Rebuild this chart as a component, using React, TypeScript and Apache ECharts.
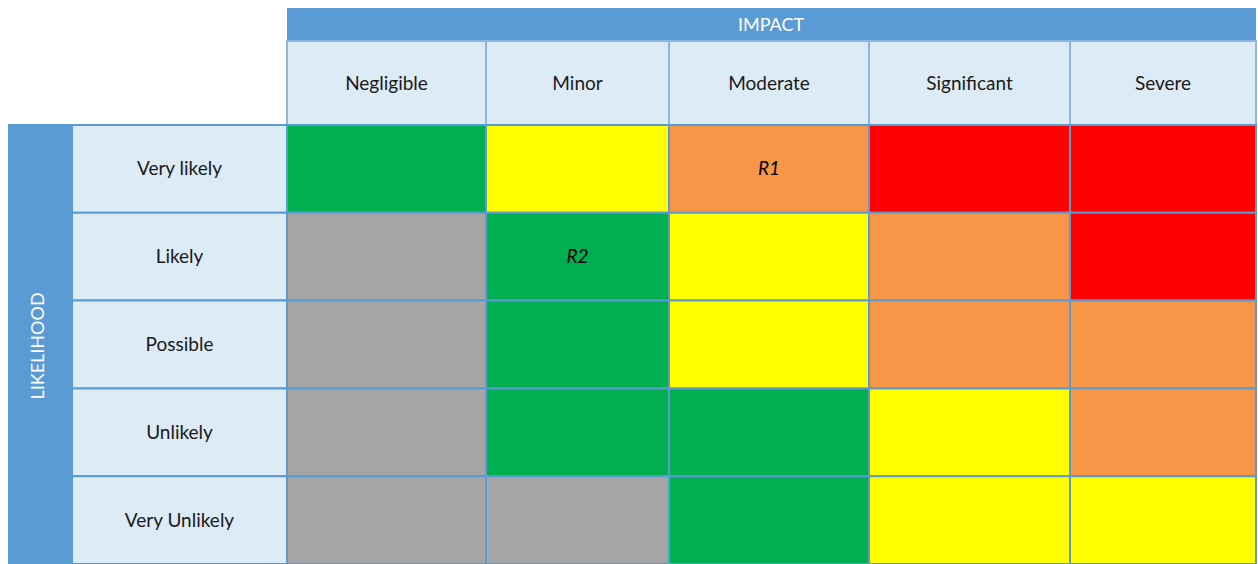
import React, { useEffect, useRef } from "react";
import * as echarts from "echarts";

// ---- data ----
const impactCategories = ["Negligible", "Minor", "Moderate", "Significant", "Severe"];
const likelihoodCategories = ["Very likely", "Likely", "Possible", "Unlikely", "Very Unlikely"];
// risk level per row (likelihood) and column (impact): 0 grey, 1 green, 2 yellow, 3 orange, 4 red
const riskLevels: number[][] = [
  [1, 2, 3, 4, 4],
  [0, 1, 2, 3, 4],
  [0, 1, 2, 3, 3],
  [0, 1, 1, 2, 3],
  [0, 0, 1, 2, 2],
];
// named risks placed in the matrix: [impact index, likelihood index, label]
const risks: [number, number, string][] = [
  [2, 0, "R1"],
  [1, 1, "R2"],
];
const impactTitle = "IMPACT";
const likelihoodTitle = "LIKELIHOOD";

// ---- styles / layout ----
const levelColors = ["#A5A5A5", "#00B050", "#FFFF00", "#F79646", "#FF0000"];
const COL_EDGES = [0, 199, 382, 582, 783, 969]; // column boundaries in x-axis units (layout)
const HEADER_BLUE = "#5B9BD5";
const LIGHT = "#DDEBF7";
const FONT = "Lato, 'Open Sans', sans-serif";
const TEXT_COLOR = "#1a1a1a";

export default function App() {
  const ref = useRef<HTMLDivElement>(null);

  useEffect(() => {
    if (!ref.current) return;
    const chart = echarts.init(ref.current, undefined, { renderer: "svg" });

    const cellData: any[] = [];
    riskLevels.forEach((row, r) =>
      row.forEach((lvl, c) => cellData.push([c, r, lvl]))
    );
    const labelFor = (c: number, r: number) => {
      const f = risks.find((k) => k[0] === c && k[1] === r);
      return f ? f[2] : "";
    };

    const option: any = {
      animation: false,
      backgroundColor: "#ffffff",
      grid: { left: 287, top: 125, width: 969, height: 442 },
      xAxis: { type: "value", min: 0, max: 969, show: false },
      yAxis: { type: "value", min: 0, max: 5, inverse: true, show: false },
      graphic: [
        {
          type: "rect",
          shape: { x: 287, y: 8, width: 969, height: 33 },
          style: { fill: HEADER_BLUE },
          z: 1,
        },
        {
          type: "text",
          x: 771,
          y: 24,
          style: {
            text: impactTitle,
            fill: "#ffffff",
            font: `18px ${FONT}`,
            align: "center",
            verticalAlign: "middle",
          },
          z: 2,
        },
        {
          type: "rect",
          shape: { x: 8, y: 124, width: 64, height: 440 },
          style: { fill: HEADER_BLUE },
          z: 1,
        },
        {
          type: "text",
          x: 37,
          y: 346,
          rotation: Math.PI / 2,
          style: {
            text: likelihoodTitle,
            fill: "#ffffff",
            font: `18px ${FONT}`,
            align: "center",
            verticalAlign: "middle",
          },
          z: 2,
        },
      ],
      series: [
        {
          type: "custom",
          name: "impact headers",
          clip: false,
          z: 2,
          data: impactCategories.map((_, i) => [i]),
          renderItem: (params: any, api: any) => {
            const c = api.value(0);
            const p0 = api.coord([COL_EDGES[c], 0]);
            const p1 = api.coord([COL_EDGES[c + 1], 0]);
            const y0 = 41;
            const y1 = p0[1];
            return {
              type: "group",
              children: [
                {
                  type: "rect",
                  shape: { x: p0[0], y: y0, width: p1[0] - p0[0], height: y1 - y0 },
                  style: { fill: LIGHT, stroke: "#8DB4E2", lineWidth: 2 },
                },
                {
                  type: "text",
                  x: (p0[0] + p1[0]) / 2,
                  y: (y0 + y1) / 2 - 1,
                  style: {
                    text: impactCategories[c],
                    fill: TEXT_COLOR,
                    font: `19px ${FONT}`,
                    align: "center",
                    verticalAlign: "middle",
                  },
                },
              ],
            };
          },
        },
        {
          type: "custom",
          name: "likelihood labels",
          clip: false,
          z: 2,
          data: likelihoodCategories.map((_, i) => [i]),
          renderItem: (params: any, api: any) => {
            const r = api.value(0);
            const p0 = api.coord([0, r]);
            const p1 = api.coord([0, r + 1]);
            const x0 = 72;
            const x1 = p0[0];
            return {
              type: "group",
              children: [
                {
                  type: "rect",
                  shape: { x: x0, y: p0[1], width: x1 - x0, height: p1[1] - p0[1] },
                  style: { fill: LIGHT, stroke: HEADER_BLUE, lineWidth: 2 },
                },
                {
                  type: "text",
                  x: (x0 + x1) / 2,
                  y: (p0[1] + p1[1]) / 2 - 1,
                  style: {
                    text: likelihoodCategories[r],
                    fill: TEXT_COLOR,
                    font: `19px ${FONT}`,
                    align: "center",
                    verticalAlign: "middle",
                  },
                },
              ],
            };
          },
        },
        {
          type: "custom",
          name: "risk matrix",
          clip: false,
          z: 3,
          data: cellData,
          renderItem: (params: any, api: any) => {
            const c = api.value(0);
            const r = api.value(1);
            const lvl = api.value(2);
            const p0 = api.coord([COL_EDGES[c], r]);
            const p1 = api.coord([COL_EDGES[c + 1], r + 1]);
            const label = labelFor(c, r);
            const children: any[] = [
              {
                type: "rect",
                shape: { x: p0[0], y: p0[1], width: p1[0] - p0[0], height: p1[1] - p0[1] },
                style: { fill: levelColors[lvl], stroke: HEADER_BLUE, lineWidth: 2 },
              },
            ];
            if (label) {
              children.push({
                type: "text",
                x: (p0[0] + p1[0]) / 2,
                y: (p0[1] + p1[1]) / 2 - 1,
                style: {
                  text: label,
                  fill: "#000000",
                  font: `italic 19px ${FONT}`,
                  align: "center",
                  verticalAlign: "middle",
                },
              });
            }
            return { type: "group", children };
          },
        },
      ],
    };

    chart.setOption(option);
    return () => chart.dispose();
  }, []);

  return (
    <div
      ref={ref}
      style={{ position: "fixed", left: 0, top: 0, width: 1258, height: 564 }}
    />
  );
}
